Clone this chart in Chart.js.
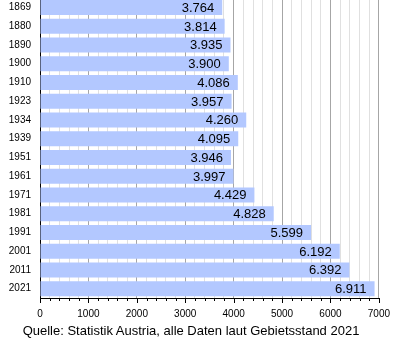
<!DOCTYPE html>
<html>
<head>
<meta charset="utf-8">
<script src="https://cdn.jsdelivr.net/npm/chart.js@4/dist/chart.umd.min.js"></script>
<style>
  html, body { margin: 0; padding: 0; background: #fff; overflow: hidden; }
  #wrap { position: absolute; left: 0; top: -2px; width: 400px; height: 342px; }
  #source {
    position: absolute; left: 0; width: 400px; top: 323px;
    text-align: center; font: 13px 'Liberation Sans', Arial, sans-serif; color: #000;
    padding-right: 18px; box-sizing: border-box;
  }
</style>
</head>
<body>
<div id="wrap"><canvas id="chart-population"></canvas></div>
<div id="source">Quelle: Statistik Austria, alle Daten laut Gebietsstand 2021</div>
<script>
const FONT = "'Liberation Sans', Arial, sans-serif";
const BAR_COLOR = '#b3c8ff';

const YEARS = ['1869', '1880', '1890', '1900', '1910', '1923', '1934', '1939',
  '1951', '1961', '1971', '1981', '1991', '2001', '2011', '2021'];
const POPULATION = [3764, 3814, 3935, 3900, 4086, 3957, 4260, 4095,
  3946, 3997, 4429, 4828, 5599, 6192, 6392, 6911];
const X_MAX = 7000;
const X_STEP = 200;

const fmt = new Intl.NumberFormat('de-DE');

// value inside the end of each bar
const barValues = {
  id: 'barValues',
  afterDatasetsDraw(chart) {
    const ctx = chart.ctx;
    const meta = chart.getDatasetMeta(0);
    ctx.save();
    ctx.font = '13px ' + FONT;
    ctx.fillStyle = '#000';
    ctx.textAlign = 'right';
    ctx.textBaseline = 'middle';
    meta.data.forEach((bar, i) => {
      ctx.fillText(fmt.format(POPULATION[i]), bar.x - 8, bar.y + 1);
    });
    ctx.restore();
  },
};

// tick marks under the x axis, longer at every 1000
const axisTicks = {
  id: 'axisTicks',
  afterDraw(chart) {
    const ctx = chart.ctx;
    const x = chart.scales.x;
    const bottom = chart.chartArea.bottom;
    ctx.save();
    ctx.strokeStyle = '#000';
    ctx.lineWidth = 1;
    x.ticks.forEach((t) => {
      const px = Math.round(x.getPixelForValue(t.value)) + 0.5;
      const len = t.value % 1000 === 0 ? 5 : 3;
      ctx.beginPath();
      ctx.moveTo(px, bottom);
      ctx.lineTo(px, bottom + len);
      ctx.stroke();
    });
    ctx.restore();
  },
};

new Chart(document.getElementById('chart-population'), {
  type: 'bar',
  data: {
    labels: YEARS,
    datasets: [{
      data: POPULATION,
      backgroundColor: BAR_COLOR,
      borderWidth: 0,
      barPercentage: 0.8,
      categoryPercentage: 1,
    }],
  },
  options: {
    indexAxis: 'y',
    responsive: true,
    maintainAspectRatio: false,
    animation: false,
    layout: {
      padding: { left: 0, right: 20, top: 0, bottom: 10 },
    },
    scales: {
      x: {
        min: 0,
        max: X_MAX,
        border: { display: true, color: '#000', width: 1 },
        grid: {
          drawTicks: false,
          color: (c) => (c.tick && c.tick.value % 1000 === 0 ? '#a6a6a6' : '#e0e0e0'),
        },
        ticks: {
          stepSize: X_STEP,
          autoSkip: false,
          maxRotation: 0,
          padding: 10,
          color: '#000',
          font: { family: FONT, size: 10 },
          callback: (v) => (v % 1000 === 0 ? String(v) : ''),
        },
      },
      y: {
        border: { display: true, color: '#000', width: 1 },
        grid: { display: false, drawTicks: false },
        ticks: {
          padding: 9,
          color: '#000',
          font: { family: FONT, size: 10 },
        },
        afterFit: (scale) => {
          scale.width = 40;
          // bars fill the full height, no room reserved for label overhang
          scale.paddingTop = 0;
          scale.paddingBottom = 0;
        },
      },
    },
    plugins: {
      legend: { display: false },
      tooltip: { enabled: false },
    },
  },
  plugins: [barValues, axisTicks],
});
</script>
</body>
</html>
